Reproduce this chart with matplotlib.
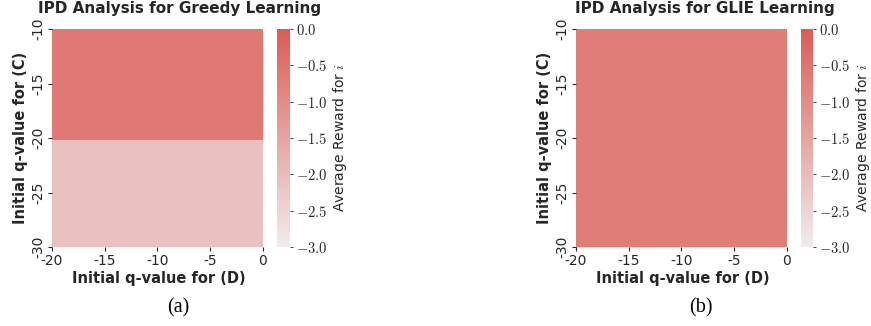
import numpy as np
import matplotlib
matplotlib.use("Agg")
import matplotlib.pyplot as plt
from matplotlib.colors import LinearSegmentedColormap

plt.rcParams['mathtext.fontset'] = 'cm'
plt.rcParams['font.family'] = ['DejaVu Sans']

# ---- data ----
d_edges = [-20, 0]                 # Initial q-value for (D), block edges
c_edges_greedy = [-30, -20.2, -10] # Initial q-value for (C), block edges
reward_greedy = [[-2.1], [-0.6]]   # rows: lower block, upper block
c_edges_glie = [-30, -10]
reward_glie = [[-0.68]]

x_ticks = [-20, -15, -10, -5, 0]
x_ticklabels = ["-20", "-15", "-10", "-5", "0"]
y_ticks = [-10, -15, -20, -25, -30]
y_ticklabels = ["-10", "-15", "-20", "-25", "-30"]
cbar_ticks = [0.0, -0.5, -1.0, -1.5, -2.0, -2.5, -3.0]
titles = ["IPD Analysis for Greedy Learning", "IPD Analysis for GLIE Learning"]
panel_labels = ["(a)", "(b)"]

cmap = LinearSegmentedColormap.from_list("reds", ["#f0ecec", "#dc5c55"])

W, H = 871, 326
fig = plt.figure(figsize=(W / 100, H / 100), dpi=100)

def frac(l, t, r, b):
    return [l / W, 1 - b / H, (r - l) / W, (b - t) / H]

panels = [
    dict(ax=(52, 29, 265, 247), cb=(277, 29, 290, 247), c=c_edges_greedy, z=reward_greedy,
         lab_x=178, title_x=180),
    dict(ax=(576, 29, 789, 247), cb=(801, 29, 813, 247), c=c_edges_glie, z=reward_glie,
         lab_x=701, title_x=705),
]
text_col = "#262626"
for i, p in enumerate(panels):
    ax = fig.add_axes(frac(*p["ax"]))
    mesh = ax.pcolormesh(d_edges, p["c"], np.array(p["z"]), cmap=cmap, vmin=-3, vmax=0)
    ax.set_xlim(-20, 0.2)
    ax.set_ylim(-30, -10)
    for s in ax.spines.values():
        s.set_visible(False)
    ax.set_xticks(x_ticks)
    ax.set_xticklabels(x_ticklabels, fontsize=10, color=text_col)
    ax.set_yticks(y_ticks)
    ax.set_yticklabels(y_ticklabels, fontsize=10, color=text_col, rotation=90, va="center")
    ax.tick_params(length=3, width=0.8, color=text_col, pad=2)
    ax.set_xlabel("Initial q-value for (D)", fontsize=10.5, fontweight="bold", color=text_col, labelpad=2)
    ax.set_ylabel("Initial q-value for (C)", fontsize=10.5, fontweight="bold", color=text_col, labelpad=2)
    fig.text(p["title_x"] / W, 1 - 9 / H, titles[i], fontsize=11, fontweight="bold", color=text_col,
             ha="center", va="center")

    cax = fig.add_axes(frac(*p["cb"]))
    cb = fig.colorbar(mesh, cax=cax, ticks=cbar_ticks)
    cb.outline.set_visible(False)
    cb.ax.set_yticklabels([f"${t:.1f}$" for t in cbar_ticks], fontsize=10.5, color=text_col)
    cb.ax.tick_params(length=2, width=0.6, color=text_col, pad=2)
    cb.set_label("Average Reward for $i$", fontsize=10, color=text_col, labelpad=3)

    fig.text(p["lab_x"] / W, 1 - 308 / H, panel_labels[i], fontsize=14.5, family="Liberation Serif",
             ha="center", va="center", color="black")

fig.savefig("out.png", dpi=100)
